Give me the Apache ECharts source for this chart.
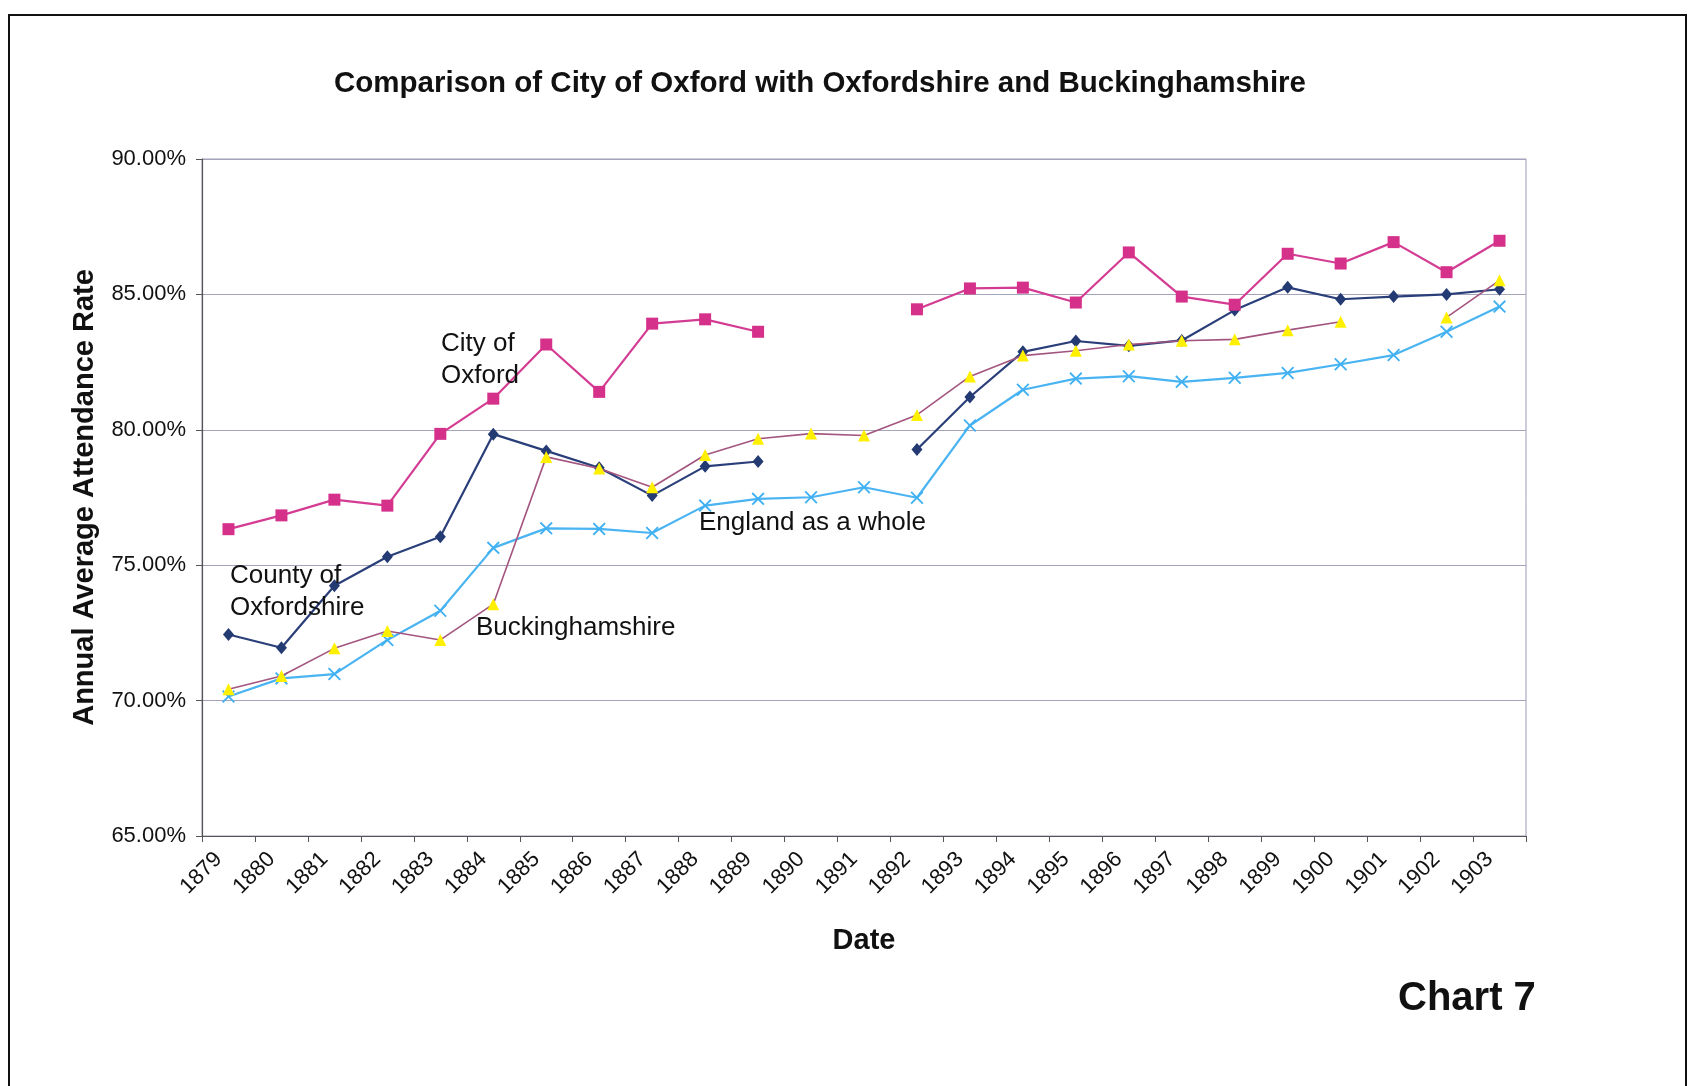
<!DOCTYPE html>
<html>
<head>
<meta charset="utf-8">
<script src="https://cdn.jsdelivr.net/npm/echarts@6/dist/echarts.min.js"></script>
<style>
html,body{margin:0;padding:0;background:#fff;}
#c{width:1695px;height:1086px;}
</style>
</head>
<body>
<div id="c"></div>
<script>
const years = ['1879','1880','1881','1882','1883','1884','1885','1886','1887','1888','1889','1890','1891','1892','1893','1894','1895','1896','1897','1898','1899','1900','1901','1902','1903'];
const cityOfOxford = [76.33,76.84,77.42,77.20,79.85,81.15,83.15,81.40,83.92,84.08,83.62,null,null,84.45,85.22,85.25,84.70,86.55,84.92,84.62,86.50,86.14,86.93,85.82,86.98];
const countyOfOxfordshire = [72.44,71.95,74.24,75.31,76.05,79.84,79.22,78.60,77.57,78.65,78.83,null,null,79.27,81.21,82.88,83.28,83.10,83.30,84.42,85.26,84.82,84.92,85.00,85.19];
const buckinghamshire = [70.42,70.91,71.93,72.57,72.24,73.56,79.00,78.57,77.88,79.07,79.67,79.86,79.79,80.55,81.97,82.74,82.92,83.15,83.29,83.34,83.68,83.99,null,84.15,85.52];
const englandAsAWhole = [70.15,70.82,70.98,72.24,73.32,75.64,76.36,76.34,76.19,77.20,77.45,77.51,77.88,77.49,80.16,81.48,81.89,81.98,81.77,81.92,82.10,82.42,82.76,83.62,84.55];
const yTicks = {min:65, max:90, interval:5};

const FONT = '"Liberation Sans", Arial, sans-serif';
const xSym = 'path://M0,1 L1,0 L5,4 L9,0 L10,1 L6,5 L10,9 L9,10 L5,6 L1,10 L0,9 L4,5 Z';

const chart = echarts.init(document.getElementById('c'), null, {renderer:'canvas'});
chart.setOption({
  backgroundColor:'#ffffff',
  animation:false,
  textStyle:{fontFamily:FONT},
  title:{
    text:'Comparison of City of Oxford with Oxfordshire and Buckinghamshire',
    left:329, top:64,
    textStyle:{fontFamily:FONT,fontSize:29.5,fontWeight:'bold',color:'#111'}
  },
  grid:{left:202,right:169,top:159,bottom:250,show:true,borderColor:'#9c9cb4',borderWidth:1,backgroundColor:'#fff'},
  xAxis:{
    type:'category', data:years, boundaryGap:true,
    name:'Date', nameLocation:'middle', nameGap:90,
    nameTextStyle:{fontFamily:FONT,fontSize:29,fontWeight:'bold',color:'#111'},
    axisLine:{lineStyle:{color:'#555',width:1.2}},
    axisTick:{show:true,alignWithLabel:false,length:6,lineStyle:{color:'#555'}},
    axisLabel:{rotate:45,margin:10,padding:[0,14,0,0],fontFamily:FONT,fontSize:22,color:'#111'},
    splitLine:{show:false}
  },
  yAxis:{
    type:'value', min:yTicks.min, max:yTicks.max, interval:yTicks.interval,
    name:'Annual Average Attendance Rate', nameLocation:'middle', nameGap:103, nameRotate:90,
    nameTextStyle:{fontFamily:FONT,fontSize:29,fontWeight:'bold',color:'#111'},
    axisLine:{show:true,lineStyle:{color:'#555',width:1.2}},
    axisTick:{show:true,length:6,lineStyle:{color:'#555'}},
    axisLabel:{margin:16,fontFamily:FONT,fontSize:22,color:'#111',formatter:v=>v.toFixed(2)+'%'},
    splitLine:{show:true,lineStyle:{color:'#a4a4bc',width:1.2}}
  },
  series:[
    {name:'City of Oxford',type:'line',data:cityOfOxford,connectNulls:false,
     symbol:'rect',symbolSize:12,itemStyle:{color:'#d6318a'},lineStyle:{color:'#d43c93',width:2.2},z:4},
    {name:'County of Oxfordshire',type:'line',data:countyOfOxfordshire,connectNulls:false,
     symbol:'diamond',symbolSize:[11,13],itemStyle:{color:'#243a73'},lineStyle:{color:'#2a3f7a',width:2.2},z:3},
    {name:'Buckinghamshire',type:'line',data:buckinghamshire,connectNulls:false,
     symbol:'triangle',symbolSize:[12,12],itemStyle:{color:'#fff000'},lineStyle:{color:'#a3557f',width:1.6},z:5},
    {name:'England as a whole',type:'line',data:englandAsAWhole,connectNulls:false,
     symbol:xSym,symbolSize:13,itemStyle:{color:'#3fb0f2'},lineStyle:{color:'#4ab4f2',width:2.2},z:2}
  ],
  graphic:[
    {type:'rect',shape:{x:9,y:15,width:1677,height:1100},style:{fill:'none',stroke:'#111',lineWidth:2},z:-1,silent:true},
    {type:'text',left:441,top:328,style:{text:'City of\nOxford',font:'26px '+FONT,fill:'#111',lineHeight:32},z:10},
    {type:'text',left:230,top:560,style:{text:'County of\nOxfordshire',font:'26px '+FONT,fill:'#111',lineHeight:32},z:10},
    {type:'text',left:476,top:615,style:{text:'Buckinghamshire',font:'26px '+FONT,fill:'#111'},z:10},
    {type:'text',left:699,top:510,style:{text:'England as a whole',font:'26px '+FONT,fill:'#111'},z:10},
    {type:'text',left:1398,top:979,style:{text:'Chart 7',font:'bold 40px '+FONT,fill:'#111'},z:10}
  ]
});
</script>
</body>
</html>
